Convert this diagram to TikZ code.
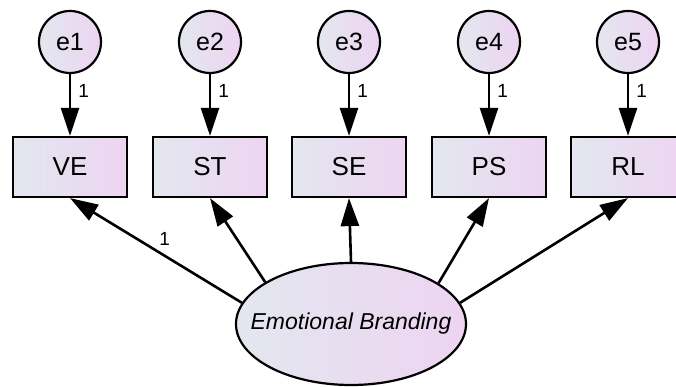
\documentclass[tikz,border=0pt]{standalone}
\usepackage{fontspec}
\setmainfont{Liberation Sans}
\usetikzlibrary{shapes.geometric, arrows.meta}
\definecolor{fillL}{HTML}{E3E7EF}
\definecolor{fillR}{HTML}{EDD4F1}
\tikzstyle{arrow} = [line width=2.6pt,-{Triangle[length=28pt,width=18pt]}]
\tikzstyle{obs} = [rectangle, draw, line width=2.2pt, minimum width=114pt, minimum height=60pt, left color=fillL, right color=fillR, font=\fontsize{26}{30}\selectfont]
\tikzstyle{err} = [circle, draw, line width=2.2pt, minimum size=62pt, inner sep=0pt, left color=fillL, right color=fillR, font=\fontsize{25}{30}\selectfont]
\tikzstyle{lbl} = [font=\fontsize{19}{22}\selectfont, inner sep=1pt]

\begin{document}
\begin{tikzpicture}[x=1pt, y=-1pt]

        \clip (0,0) rectangle (676,387);

        % Error terms
        \node at (70,42) [err] (e1) {e1};
        \node at (210,42) [err] (e2) {e2};
        \node at (349,42) [err] (e3) {e3};
        \node at (489,42) [err] (e4) {e4};
        \node at (628,42) [err] (e5) {e5};

        % Observed variables
        \node at (70,167) [obs] (VE) {VE};
        \node at (210,167) [obs] (ST) {ST};
        \node at (349,167) [obs] (SE) {SE};
        \node at (489,167) [obs] (PS) {PS};
        \node at (628,167) [obs] (RL) {RL};

        % Latent variable
        \node at (351,324) [ellipse, draw, line width=2.2pt, minimum width=230pt, minimum height=122pt, inner sep=0pt, left color=fillL, right color=fillR, font=\fontsize{23}{28}\selectfont\itshape] (EB) {\makebox[0pt]{Emotional Branding}};

        % Error paths
        \draw[arrow] (e1) -- node[pos=0.28, right=6pt, lbl] {1} (VE);
        \draw[arrow] (e2) -- node[pos=0.28, right=6pt, lbl] {1} (ST);
        \draw[arrow] (e3) -- node[pos=0.28, right=6pt, lbl] {1} (SE);
        \draw[arrow] (e4) -- node[pos=0.28, right=6pt, lbl] {1} (PS);
        \draw[arrow] (e5) -- node[pos=0.28, right=6pt, lbl] {1} (RL);

        % Loadings
        \draw[arrow] (EB.169.7) -- node[pos=0.45, above=8pt, lbl] {1} (VE.south);
        \draw[arrow] (EB.154.5) -- (ST.south);
        \draw[arrow] (EB.90) -- (SE.south);
        \draw[arrow] (EB.25.5) -- (PS.south);
        \draw[arrow] (EB.11) -- (RL.south);

\end{tikzpicture}
\end{document}
